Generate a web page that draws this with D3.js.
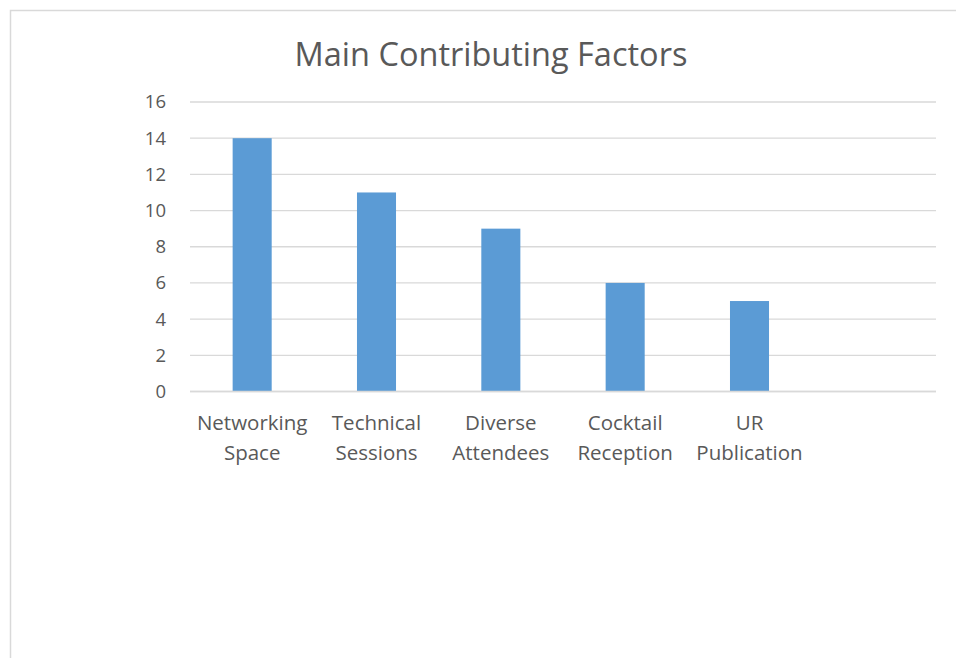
<!DOCTYPE html>
<html>
<head>
<meta charset="utf-8">
<script src="https://cdn.jsdelivr.net/npm/d3@7"></script>
<style>
  body { margin: 0; background: #fff; }
  text { font-family: "Open Sans", "Noto Sans", sans-serif; fill: #595959; }
</style>
</head>
<body>
<div id="chart"></div>
<script>
// Chart data
var categories = ["Networking Space", "Technical Sessions", "Diverse Attendees", "Cocktail Reception", "UR Publication", ""];
var values = [14, 11, 9, 6, 5, null];
var yTicks = [0, 2, 4, 6, 8, 10, 12, 14, 16];

var svgWidth = 956;
var svgHeight = 658;

var svg = d3.select("#chart")
  .append("svg")
  .attr("width", svgWidth)
  .attr("height", svgHeight);

// Chart border (runs off right/bottom edges)
svg.append("rect")
  .attr("x", 10.5)
  .attr("y", 10.5)
  .attr("width", 960)
  .attr("height", 660)
  .attr("fill", "none")
  .attr("stroke", "#d9d9d9")
  .attr("stroke-width", 1.5);

// Title
svg.append("text")
  .attr("x", 491)
  .attr("y", 66)
  .attr("text-anchor", "middle")
  .attr("font-size", 32.5)
  .text("Main Contributing Factors");

var xScale = d3.scaleBand()
  .domain(categories)
  .range([190, 936])
  .paddingInner(0.686)
  .paddingOuter(0.343);

var yScale = d3.scaleLinear()
  .domain([0, 16])
  .range([391.5, 102]);

// Gridlines
svg.append("g")
  .selectAll("line")
  .data(yTicks)
  .enter()
  .append("line")
  .attr("x1", 190)
  .attr("x2", 936)
  .attr("y1", d => yScale(d))
  .attr("y2", d => yScale(d))
  .attr("stroke", "#d9d9d9")
  .attr("stroke-width", 1.3);

// Y axis labels
var leftAxis = d3.axisLeft(yScale).tickValues(yTicks).tickSize(0).tickPadding(0);
var yAxis = svg.append("g")
  .attr("transform", "translate(166,0)")
  .call(leftAxis);
yAxis.select(".domain").remove();
yAxis.selectAll("text")
  .attr("font-size", 18.5)
  .attr("fill", "#595959")
  .style("font-family", '"Open Sans", "Noto Sans", sans-serif');

// Bars
svg.append("g")
  .selectAll("rect")
  .data(categories.map((c, i) => ({ cat: c, val: values[i] })).filter(d => d.val != null))
  .enter()
  .append("rect")
  .attr("x", d => xScale(d.cat))
  .attr("y", d => yScale(d.val))
  .attr("width", xScale.bandwidth())
  .attr("height", d => yScale(0) - yScale(d.val))
  .attr("fill", "#5b9bd5");

// Redraw zero line on top
svg.append("line")
  .attr("x1", 190)
  .attr("x2", 936)
  .attr("y1", yScale(0))
  .attr("y2", yScale(0))
  .attr("stroke", "#d9d9d9")
  .attr("stroke-width", 1.3);

// Category labels (two lines)
var catText = svg.append("g")
  .selectAll("text")
  .data(categories)
  .enter()
  .append("text")
  .attr("text-anchor", "middle")
  .attr("font-size", 20.5)
  .attr("x", d => xScale(d) + xScale.bandwidth() / 2);

catText.each(function(d) {
  var words = d.split(" ");
  var t = d3.select(this);
  words.forEach(function(w, i) {
    t.append("tspan")
      .attr("x", xScale(d) + xScale.bandwidth() / 2)
      .attr("y", 430 + i * 30)
      .text(w);
  });
});
</script>
</body>
</html>
